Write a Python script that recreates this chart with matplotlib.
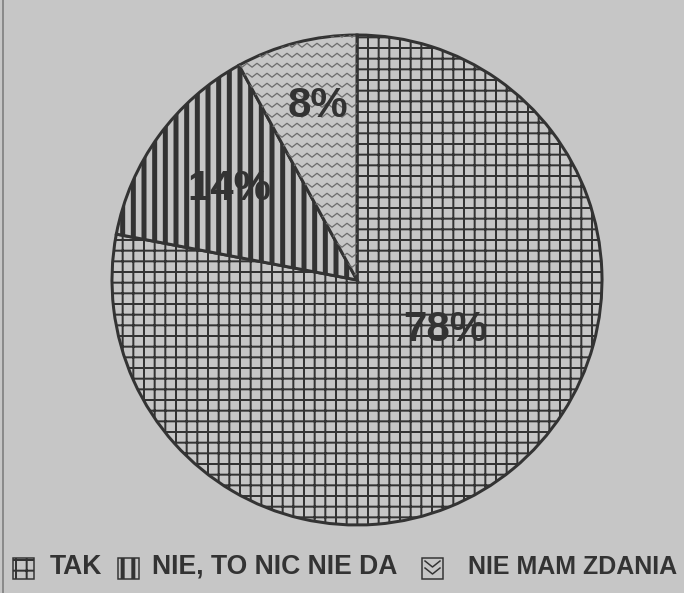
import numpy as np
import matplotlib
matplotlib.use("Agg")
import matplotlib.pyplot as plt
from matplotlib.patches import Rectangle

# Survey answers (share of respondents, %)
labels = ["TAK", "NIE, TO NIC NIE DA", "NIE MAM ZDANIA"]
shares = [78, 14, 8]
hatches = ["+", "|", ""]
label_xy = [(0.36, -0.205), (-0.52, 0.37), (-0.16, 0.71)]

W, H, DPI = 684, 593, 64
PT = 72 / DPI          # points per pixel
BG = "#c6c6c6"
INK = "#333333"
plt.rcParams["font.family"] = ["Liberation Sans", "DejaVu Sans"]
plt.rcParams["hatch.color"] = INK
plt.rcParams["hatch.linewidth"] = 2.0 * PT

fig = plt.figure(figsize=(W / DPI, H / DPI), dpi=DPI, facecolor=BG)
ax = fig.add_axes([112 / W, 68 / H, 490 / W, 490 / H])
ax.set_facecolor(BG)

wedges, _ = ax.pie(
    shares,
    startangle=90,
    counterclock=False,
    radius=1,
    colors=[BG] * 3,
    wedgeprops=dict(edgecolor=INK, linewidth=3 * PT),
)
for w, h in zip(wedges, hatches):
    w.set_hatch(h)
    if h == "|" and hasattr(w, "set_hatch_linewidth"):
        w.set_hatch_linewidth(5.0 * PT)

# zigzag texture for the "no opinion" slice
xs = np.linspace(-1.05, 1.05, 1200)
per = 10 / 245
for y0 in np.arange(-1.05, 1.05, 10 / 245):
    ys = y0 + (4 / 245) * np.abs(((xs / per) % 1.0) * 2 - 1)
    ln, = ax.plot(xs, ys, color="#6e6e6e", lw=1.3 * PT)
    ln.set_clip_path(wedges[2])

ax.set_xlim(-1, 1)
ax.set_ylim(-1, 1)
ax.axis("off")

for (x, y), s in zip(label_xy, shares):
    ax.text(x, y, f"{s}%", ha="center", va="center", fontsize=42 * PT,
            fontweight="bold", color=INK)

# legend along the bottom
leg_boxes = [13, 118, 422]
leg_text = [50, 152, 468]
leg_size = [26.5, 26.5, 25]
for bx, tx, fs, lab, h in zip(leg_boxes, leg_text, leg_size, labels, hatches):
    r = Rectangle((bx / W, (H - 579) / H), 21 / W, 21 / H,
                  transform=fig.transFigure, facecolor=BG, edgecolor=INK,
                  lw=1.5 * PT, hatch=h)
    if h == "|" and hasattr(r, "set_hatch_linewidth"):
        r.set_hatch_linewidth(4.0 * PT)
    fig.patches.append(r)
    if h == "":
        for top in (561, 568):
            vx = np.array([bx + 3, bx + 10.5, bx + 18]) / W
            vy = (H - np.array([top, top + 6, top])) / H
            fig.add_artist(plt.Line2D(vx, vy, transform=fig.transFigure,
                                      color=INK, lw=1.5 * PT))
    fig.text(tx / W, (H - 567) / H, lab, ha="left", va="center",
             fontsize=fs * PT, fontweight="bold", color=INK)

# left frame line of the scanned clipping
fig.add_artist(plt.Line2D([3 / W, 3 / W], [0, 1], transform=fig.transFigure,
                          color="#777777", lw=1.5 * PT))

fig.savefig("out.png", dpi=DPI, facecolor=BG)
